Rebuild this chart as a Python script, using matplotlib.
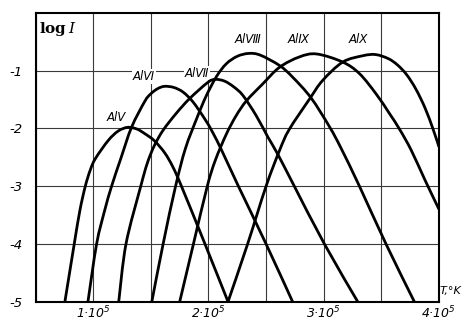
import numpy as np
import matplotlib
matplotlib.use('Agg')
import matplotlib.pyplot as plt
from matplotlib.path import Path
from matplotlib.patches import PathPatch

# temperature in units of 1e5 K
T_V = [0.755, 0.836, 0.885, 0.932, 0.975, 1.02, 1.13, 1.217, 1.30, 1.38, 1.448, 1.53, 1.62, 1.69, 1.766, 1.97, 2.17]
L_V = [-5.0, -4.0, -3.42, -3.0, -2.72, -2.52, -2.21, -2.045, -1.98, -2.01, -2.09, -2.21, -2.42, -2.66, -3.0, -4.0, -5.0]

T_VI = [0.955, 1.03, 1.10, 1.16, 1.24, 1.333, 1.448, 1.50, 1.56, 1.62, 1.70, 1.78, 1.866, 1.97, 2.04, 2.12, 2.26, 2.50, 2.73]
L_VI = [-5.0, -4.0, -3.42, -3.0, -2.52, -1.98, -1.53, -1.40, -1.31, -1.27, -1.29, -1.37, -1.54, -1.84, -2.08, -2.40, -3.0, -4.0, -5.0]

T_VII = [1.222, 1.285, 1.413, 1.47, 1.53, 1.607, 1.72, 1.838, 1.996, 2.06, 2.14, 2.22, 2.30, 2.415, 2.516, 2.60, 2.745, 3.006, 3.295]
L_VII = [-5.0, -4.0, -3.0, -2.6, -2.3, -2.03, -1.74, -1.48, -1.20, -1.15, -1.18, -1.28, -1.43, -1.78, -2.15, -2.44, -3.0, -4.0, -5.0]

T_VIII = [1.509, 1.607, 1.715, 1.80, 1.90, 1.98, 2.07, 2.155, 2.25, 2.35, 2.45, 2.617, 2.73, 2.89, 3.05, 3.15, 3.31, 3.54, 3.786]
L_VIII = [-5.0, -4.0, -3.0, -2.35, -1.82, -1.44, -1.10, -0.88, -0.75, -0.70, -0.73, -0.91, -1.11, -1.47, -1.97, -2.34, -3.0, -4.0, -5.0]

T_IX = [1.751, 1.87, 1.99, 2.06, 2.155, 2.24, 2.33, 2.47, 2.617, 2.79, 2.94, 3.165, 3.31, 3.454, 3.57, 3.66, 3.76, 3.88, 4.0]
L_IX = [-5.0, -4.0, -3.0, -2.55, -2.10, -1.78, -1.52, -1.23, -0.94, -0.76, -0.71, -0.85, -1.05, -1.40, -1.74, -2.02, -2.38, -2.90, -3.40]

T_X = [2.17, 2.34, 2.50, 2.617, 2.70, 2.877, 2.99, 3.165, 3.34, 3.45, 3.56, 3.64, 3.72, 3.80, 3.88, 3.95, 4.0]
L_X = [-5.0, -4.0, -3.0, -2.38, -2.02, -1.49, -1.17, -0.85, -0.74, -0.72, -0.79, -0.90, -1.07, -1.32, -1.65, -2.02, -2.32]

curves = [(T_V, L_V), (T_VI, L_VI), (T_VII, L_VII), (T_VIII, L_VIII), (T_IX, L_IX), (T_X, L_X)]

labels = ['Al\u2164', 'Al\u2165', 'Al\u2166', 'Al\u2167', 'Al\u2168', 'Al\u2169']
label_T = [1.20, 1.44, 1.90, 2.34, 2.78, 3.30]
label_L = [-1.81, -1.10, -1.04, -0.46, -0.46, -0.46]

xticks = [1, 2, 3, 4]
xticklabels = ['1\u00b710$^{5}$', '2\u00b710$^{5}$', '3\u00b710$^{5}$', '4\u00b710$^{5}$']
yticks = [-5, -4, -3, -2, -1]
yticklabels = ['-5', '-4', '-3', '-2', '-1']


def smooth_path(x, y):
    # Catmull-Rom through the read points, handed to matplotlib as cubic Bezier segments
    p = np.column_stack([x, y])
    ext = np.vstack([p[0], p, p[-1]])
    verts = [p[0]]
    codes = [Path.MOVETO]
    for i in range(len(p) - 1):
        p0, p1, p2, p3 = ext[i], ext[i+1], ext[i+2], ext[i+3]
        verts += [p1 + (p2 - p0)/6, p2 - (p3 - p1)/6, p2]
        codes += [Path.CURVE4]*3
    return Path(verts, codes)


plt.rcParams['mathtext.fontset'] = 'custom'
plt.rcParams['mathtext.it'] = 'DejaVu Sans:italic'
plt.rcParams['mathtext.rm'] = 'DejaVu Sans:italic'

fig = plt.figure(figsize=(4.67, 3.29), dpi=100)
ax = fig.add_axes([35.5/467, 1-301.7/329, (439-35.5)/467, (301.7-13)/329])

for T, L in curves:
    ax.add_patch(PathPatch(smooth_path(T, L), facecolor='none', edgecolor='k', lw=2.0,
                           joinstyle='round', capstyle='butt', zorder=3))

for s, x, y in zip(labels, label_T, label_L):
    ax.text(x, y, s, ha='center', va='center', fontsize=8.5, style='italic',
            bbox=dict(facecolor='white', edgecolor='none', pad=0.5), zorder=2.5)

ax.text(0.53, -0.27, r'$\mathbf{log}\,\mathit{I}$', ha='left', va='center', fontsize=11,
        math_fontfamily='dejavuserif')

ax.set_xlim(0.5, 4.0)
ax.set_ylim(-5, 0)
ax.set_xticks(xticks)
ax.set_xticklabels(xticklabels, fontsize=9, style='italic')
ax.set_xticks(np.arange(0.5, 4.01, 0.5), minor=True)
ax.set_yticks(yticks)
ax.set_yticklabels(yticklabels, fontsize=9.5, style='italic')
ax.tick_params(which='both', length=0)
ax.tick_params(axis='x', pad=2)
ax.tick_params(axis='y', pad=9)
ax.set_axisbelow(True)
ax.grid(which='both', color='#3a3a3a', lw=0.8)
for sp in ax.spines.values():
    sp.set_linewidth(1.5)

fig.text(440/467, 1-291/329, 'T,°K', ha='left', va='center', fontsize=8, style='italic')

fig.savefig('out.png', dpi=100)
